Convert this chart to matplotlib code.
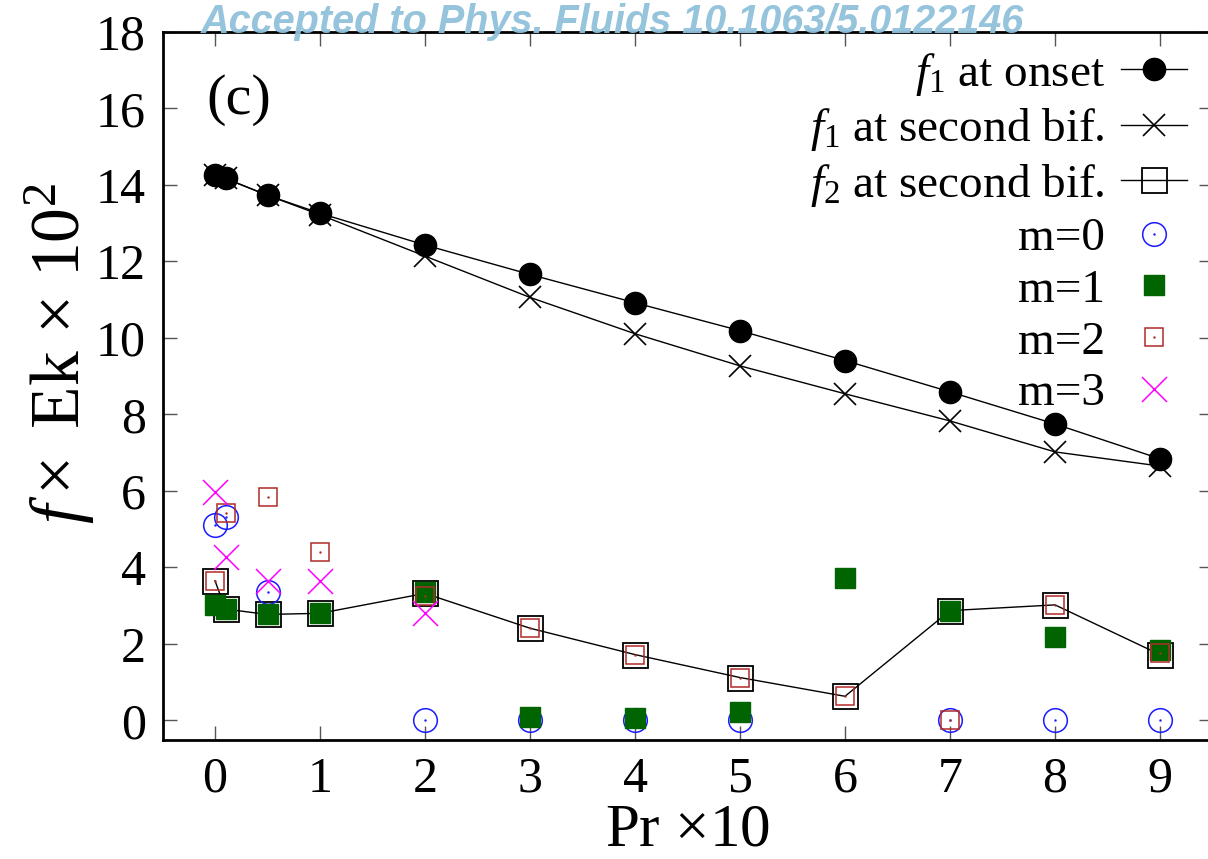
import matplotlib
matplotlib.use('Agg')
from matplotlib import pyplot as plt
from matplotlib.legend_handler import HandlerTuple

# Pr x 10 values
pr = [0, 0.1, 0.5, 1, 2, 3, 4, 5, 6, 7, 8, 9]
f1_onset = [14.25, 14.17, 13.73, 13.26, 12.43, 11.66, 10.92, 10.19, 9.41, 8.59, 7.75, 6.84]
f1_bif = [14.25, 14.17, 13.73, 13.22, 12.14, 11.06, 10.11, 9.27, 8.54, 7.83, 7.02, 6.65]
f2_bif = [3.65, 2.91, 2.77, 2.80, 3.32, 2.41, 1.72, 1.12, 0.63, 2.87, 3.02, 1.72]

m0_x = [0, 0.1, 0.5, 2, 3, 4, 5, 7, 8, 9]
m0_y = [5.11, 5.31, 3.35, 0, 0, 0, 0, 0, 0, 0]
m1_x = [0, 0.1, 0.5, 1, 2, 3, 4, 5, 6, 7, 8, 9]
m1_y = [3.01, 2.90, 2.77, 2.82, 3.36, 0.10, 0.07, 0.23, 3.71, 2.87, 2.17, 1.85]
m2_x = [0, 0.1, 0.5, 1, 2, 3, 4, 5, 6, 7, 8, 9]
m2_y = [3.65, 5.41, 5.85, 4.40, 3.26, 2.41, 1.72, 1.12, 0.65, 0.0, 3.02, 1.75]
m3_x = [0, 0.1, 0.5, 1, 2]
m3_y = [5.96, 4.26, 3.65, 3.65, 2.82]

xticks = list(range(10))
yticks = list(range(0, 19, 2))

plt.rcParams['font.family'] = 'Liberation Serif'
plt.rcParams['mathtext.fontset'] = 'custom'
plt.rcParams['mathtext.rm'] = 'Liberation Serif'
plt.rcParams['mathtext.it'] = 'Liberation Serif:italic'

W, H = 1208, 859
fig = plt.figure(figsize=(W / 100, H / 100), dpi=100)
ax = fig.add_axes([162.5 / W, (H - 739.5) / H, 1050 / W, 707.5 / H])

l1, = ax.plot(pr, f1_onset, color='k', lw=1, marker='o', ms=16, mfc='k', mec='k')
l2, = ax.plot(pr, f1_bif, color='k', lw=1, marker='x', ms=16, mew=1.2)
l3, = ax.plot(pr, f2_bif, color='k', lw=1, marker='s', ms=18, mfc='none', mew=1.3)

blue = '#1a1aff'
green = '#006400'
red = '#b22a2a'
mag = '#ff00ff'
h0, = ax.plot(m0_x, m0_y, ls='none', marker='o', ms=17, mfc='none', mec=blue, mew=1.1)
d0, = ax.plot(m0_x, m0_y, ls='none', marker='.', ms=1.5, color=blue)
h1, = ax.plot(m1_x, m1_y, ls='none', marker='s', ms=14, color=green)
h2, = ax.plot(m2_x, m2_y, ls='none', marker='s', ms=13, mfc='none', mec=red, mew=1.1)
d2, = ax.plot(m2_x, m2_y, ls='none', marker='.', ms=1.5, color=red)
h3, = ax.plot(m3_x, m3_y, ls='none', marker='x', ms=18, color=mag, mew=1.1)

ax.set_xlim(-0.5, 9.5)
ax.set_ylim(-0.5, 18)
ax.set_xticks(xticks)
ax.set_yticks(yticks)
ax.tick_params(direction='in', length=10, width=1, color='#555555',
               top=True, right=True, labelsize=36, pad=12)
for s in ax.spines.values():
    s.set_linewidth(2)

ax.set_xlabel(r'Pr $\times$10', fontsize=44, labelpad=0)
ax.set_ylabel(r'$f\times$ Ek $\times$ 10$^2$', fontsize=50)
ax.yaxis.set_label_coords(-0.062, 0.545)

ax.text(0.042, 0.885, '(c)', transform=ax.transAxes, fontsize=42)

leg = ax.legend([l1, l2, l3, (h0, d0), h1, (h2, d2), h3],
                [r'$f_{\mathit{1}}$ at onset', r'$f_{\mathit{1}}$ at second bif.',
                 r'$f_{\mathit{2}}$ at second bif.', 'm=0', 'm=1', 'm=2', 'm=3'],
                handler_map={tuple: HandlerTuple(ndivide=1, pad=0)},
                loc='upper right', bbox_to_anchor=(0.994, 1.0), frameon=False,
                markerfirst=False, fontsize=34, handlelength=1.4, handletextpad=0.35,
                labelspacing=0.18, borderaxespad=0)

fig.text(612 / W, 1 - 22 / H, 'Accepted to Phys. Fluids 10.1063/5.0122146',
         family='Liberation Sans', weight='bold', style='italic', fontsize=28.5,
         color='#8fc1da', ha='center', va='center', alpha=0.95)

fig.savefig('out.png', dpi=100)
